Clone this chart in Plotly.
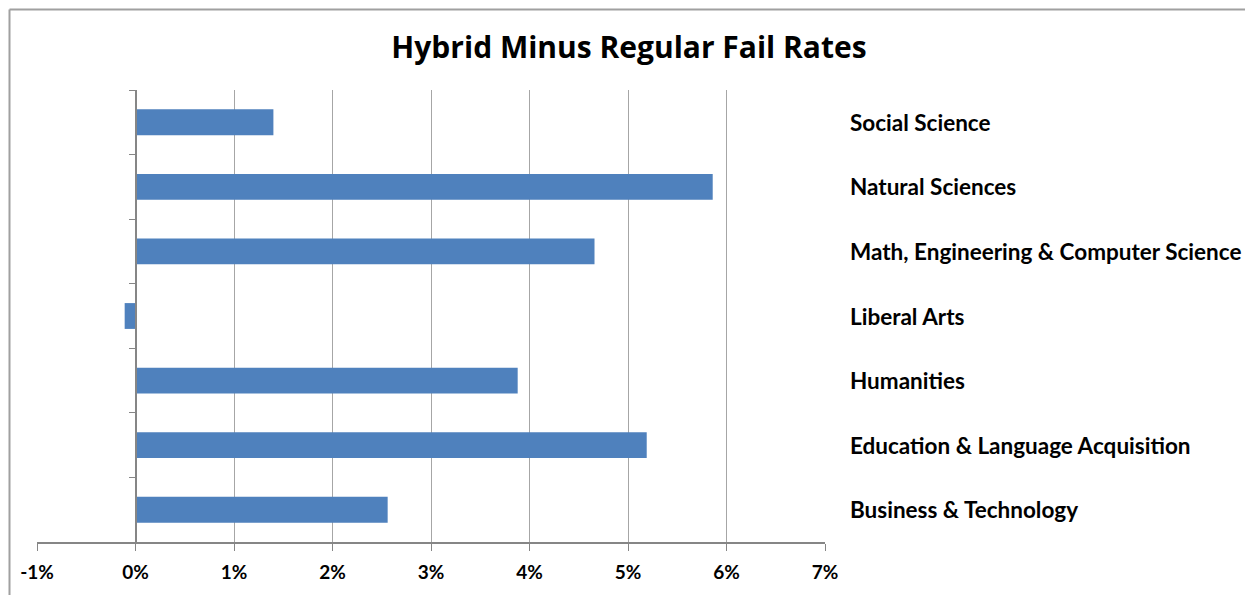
import plotly.graph_objects as go

categories = ["Business & Technology", "Education & Language Acquisition", "Humanities",
              "Liberal Arts", "Math, Engineering & Computer Science", "Natural Sciences",
              "Social Science"]
values = [0.0256, 0.0519, 0.0388, -0.0011, 0.0466, 0.0586, 0.0140]
x_ticks = [-0.01, 0, 0.01, 0.02, 0.03, 0.04, 0.05, 0.06, 0.07]
x_tick_labels = ["-1%", "0%", "1%", "2%", "3%", "4%", "5%", "6%", "7%"]
title = "Hybrid Minus Regular Fail Rates"

# the page body has an 8px margin; lay out in window coordinates
OFF = 8
VW, VH = 1253, 595
W, H = VW - OFF, VH - OFF
L, R, T, B = 37, 825, 90, 542  # plot area in window pixels
FONT = "Lato"

fig = go.Figure(go.Bar(
    y=categories, x=values, orientation="h",
    marker=dict(color="#4F81BD", line=dict(width=0)),
    width=0.4, hoverinfo="x+y",
))

fig.update_layout(
    width=W, height=H,
    margin=dict(l=L - OFF, r=VW - R, t=T - OFF, b=VH - B, pad=0),
    paper_bgcolor="white", plot_bgcolor="white",
    showlegend=False,
    title=dict(text="<b>" + title + "</b>", x=((388 + 870) / 2 - OFF) / W, xanchor="center",
               y=1 - (47 - OFF) / H, yanchor="middle",
               font=dict(family="Open Sans", size=30, color="black")),
    font=dict(family=FONT, color="black"),
    xaxis=dict(range=[-0.01, 0.07], tickvals=x_ticks, ticktext=["<b>%s</b>" % t for t in x_tick_labels],
               showgrid=True, gridcolor="#A6A6A6", gridwidth=1,
               showline=True, linecolor="#868686", linewidth=1.5,
               ticks="outside", ticklen=7, tickcolor="#868686", ticklabelstandoff=5,
               tickfont=dict(family=FONT, size=19, color="black"),
               zeroline=False, mirror=False),
    yaxis=dict(categoryorder="array", categoryarray=categories,
               range=[-0.5, 6.5], anchor="free", position=0.125,
               showline=True, linecolor="#868686", linewidth=1.5,
               ticks="outside", ticklen=6, tickcolor="#868686", tickson="boundaries",
               showticklabels=False, showgrid=False, zeroline=False),
)

# category labels on the right
for c in categories:
    fig.add_annotation(x=1 + 23 / (R - L), xref="paper", y=c, yref="y",
                       text="<b>%s</b>" % c, showarrow=False, xanchor="left", yanchor="middle",
                       font=dict(family=FONT, size=22.5, color="black"))

# outer chart border (left, top, right)
px = lambda p: (p - L) / (R - L)
py = lambda p: (B - p) / (B - T)
for x0, y0, x1, y1 in [(9.5, 9.5, 9.5, 600), (9.5, 9.5, 1251, 9.5), (1251, 9.5, 1251, 600)]:
    fig.add_shape(type="line", xref="paper", yref="paper",
                  x0=px(x0), y0=py(y0), x1=px(x1), y1=py(y1),
                  line=dict(color="#A0A0A0", width=2))

fig.write_html("out.html")
